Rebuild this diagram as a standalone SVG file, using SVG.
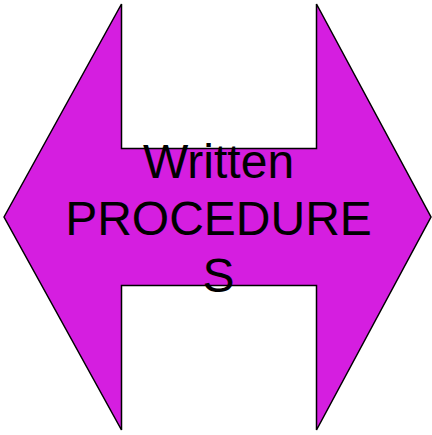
<svg xmlns="http://www.w3.org/2000/svg" width="432" height="435" viewBox="0 0 432 435">
<style>
.shape{fill:#D51EE0;stroke:#000;stroke-width:1.5;stroke-linejoin:miter}
.lbl{font-family:"Liberation Sans",Arial,sans-serif;font-size:48px;fill:#000;text-anchor:middle}
</style>
<rect width="432" height="435" fill="#fff"/>
<g id="double-arrow">
<path class="shape" d="M4,217 L121.5,4 L121.5,148.5 L316.5,148.5 L316.5,4 L431,217 L316.5,430 L316.5,285.5 L121.5,285.5 L121.5,430 Z"/>
<text class="lbl" x="218.5" y="178">Written</text>
<text class="lbl" x="218.5" y="235">PROCEDURE</text>
<text class="lbl" x="218.5" y="292">S</text>
</g>
</svg>
